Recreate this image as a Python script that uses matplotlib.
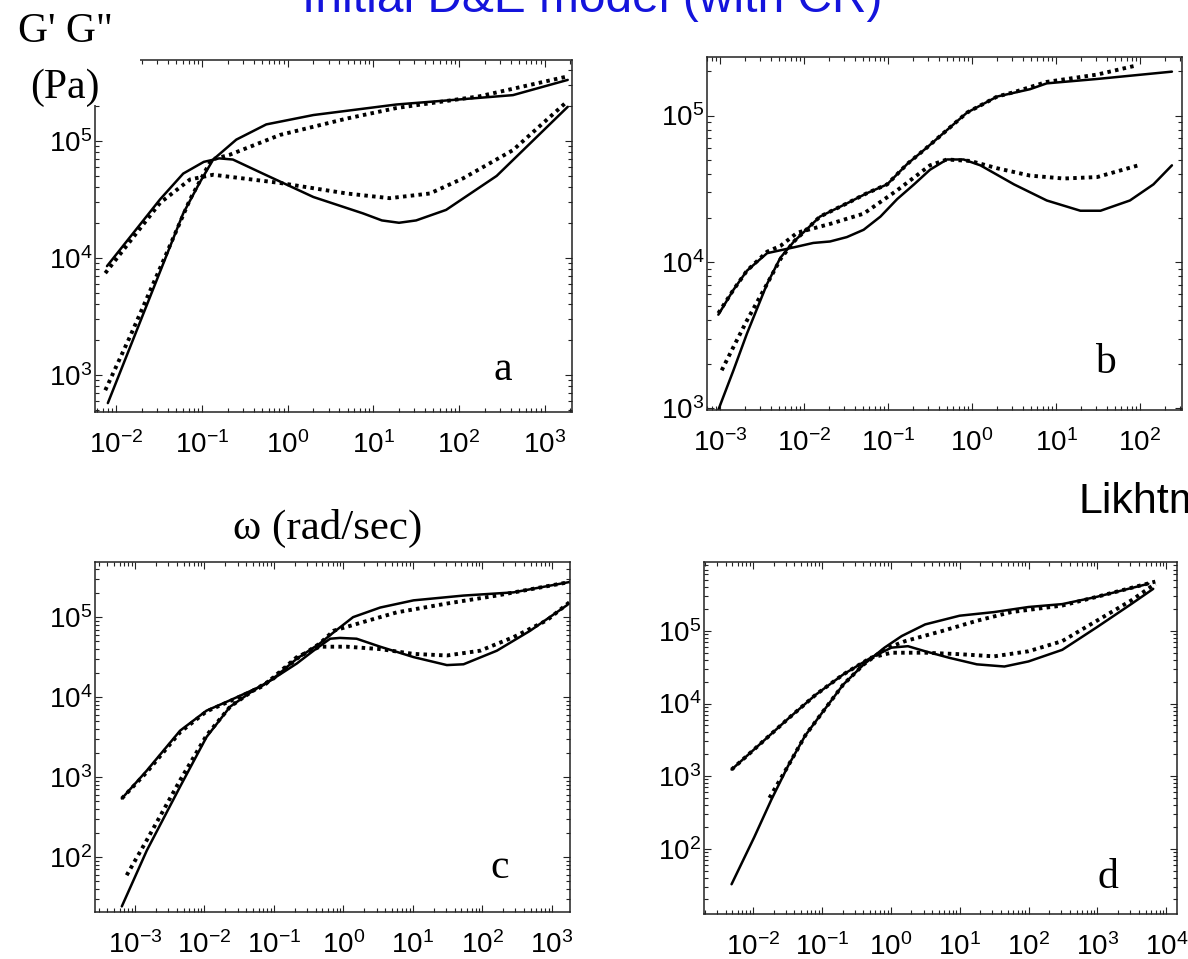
import numpy as np
import matplotlib.pyplot as plt
import matplotlib.ticker as mticker
from matplotlib.patches import Rectangle

plt.rcParams['font.family'] = ['Liberation Sans', 'DejaVu Sans']
plt.rcParams['mathtext.fontset'] = 'custom'
plt.rcParams['mathtext.rm'] = 'Liberation Sans'
plt.rcParams['mathtext.it'] = 'Liberation Sans:italic'
plt.rcParams['mathtext.default'] = 'regular'

# curves are stored as (log10 omega, log10 G) pairs
# panel a
a_gp_solid = np.array([(-2.10, 2.76), (-1.22, 4.38), (-1.03, 4.64), (-0.87, 4.84), (-0.60, 5.01),
                       (-0.25, 5.14), (0.30, 5.22), (1.27, 5.31), (2.63, 5.39), (3.27, 5.52)])
a_gp_dots = np.array([(-2.13, 2.87), (-1.84, 3.33), (-1.45, 3.98), (-1.14, 4.50), (-0.89, 4.84),
                      (-0.68, 4.88), (-0.09, 5.05), (0.69, 5.19), (1.27, 5.28), (2.24, 5.38), (3.27, 5.55)])
a_gpp_solid = np.array([(-2.11, 3.93), (-1.49, 4.50), (-1.22, 4.72), (-0.98, 4.82), (-0.80, 4.85),
                        (-0.64, 4.84), (-0.29, 4.72), (0.30, 4.52), (0.88, 4.38), (1.10, 4.32),
                        (1.30, 4.30), (1.50, 4.32), (1.85, 4.41), (2.44, 4.70), (3.27, 5.29)])
a_gpp_dots = np.array([(-2.13, 3.87), (-1.49, 4.47), (-1.14, 4.67), (-0.87, 4.71), (-0.09, 4.64),
                       (0.69, 4.55), (1.19, 4.51), (1.66, 4.55), (2.05, 4.68), (2.63, 4.92), (3.27, 5.34)])

# panel b
b_gp_solid = np.array([(-3.02, 2.99), (-2.84, 3.26), (-2.68, 3.51), (-2.44, 3.85), (-2.28, 4.03),
                       (-2.12, 4.14), (-1.81, 4.31), (-1.49, 4.40), (-1.25, 4.47), (-1.01, 4.53),
                       (-0.77, 4.67), (-0.54, 4.78), (-0.30, 4.90), (-0.06, 5.02), (0.30, 5.13),
                       (0.69, 5.18), (0.89, 5.22), (1.49, 5.25), (2.38, 5.30)])
b_gp_dots = np.array([(-2.98, 3.26), (-2.84, 3.42), (-2.68, 3.60), (-2.44, 3.85), (-2.28, 4.02),
                      (-2.12, 4.14), (-1.81, 4.31), (-1.49, 4.40), (-1.25, 4.47), (-1.01, 4.53),
                      (-0.77, 4.67), (-0.54, 4.78), (-0.30, 4.90), (-0.06, 5.02), (0.30, 5.13),
                      (0.50, 5.16), (0.89, 5.23), (1.49, 5.28), (1.94, 5.34)])
b_gpp_solid = np.array([(-3.02, 3.64), (-2.84, 3.81), (-2.68, 3.94), (-2.44, 4.06), (-2.28, 4.08),
                        (-2.12, 4.10), (-1.89, 4.13), (-1.69, 4.14), (-1.49, 4.17), (-1.29, 4.22),
                        (-1.09, 4.31), (-0.89, 4.43), (-0.69, 4.53), (-0.50, 4.63), (-0.30, 4.70),
                        (-0.10, 4.70), (0.10, 4.66), (0.50, 4.53), (0.89, 4.42), (1.29, 4.35),
                        (1.53, 4.35), (1.88, 4.42), (2.16, 4.53), (2.38, 4.66)])
b_gpp_dots = np.array([(-3.02, 3.65), (-2.84, 3.81), (-2.68, 3.94), (-2.44, 4.07), (-2.28, 4.11),
                       (-2.08, 4.20), (-1.69, 4.26), (-1.29, 4.33), (-0.89, 4.49), (-0.50, 4.66),
                       (-0.30, 4.70), (-0.02, 4.69), (0.30, 4.64), (0.69, 4.59), (1.09, 4.57),
                       (1.49, 4.58), (1.98, 4.66)])

# panel c
c_gp_solid = np.array([(-3.19, 1.38), (-2.83, 2.08), (-2.35, 2.88), (-1.97, 3.50), (-1.63, 3.88),
                       (-1.30, 4.08), (-1.01, 4.23), (-0.67, 4.48), (-0.34, 4.67), (-0.14, 4.81),
                       (0.14, 5.00), (0.53, 5.12), (1.01, 5.21), (1.73, 5.27), (2.45, 5.31), (3.26, 5.44)])
c_gp_dots = np.array([(-3.12, 1.77), (-2.83, 2.21), (-2.35, 2.96), (-1.97, 3.52), (-1.63, 3.88),
                      (-1.30, 4.08), (-1.01, 4.23), (-0.67, 4.48), (-0.34, 4.67), (-0.14, 4.83),
                      (0.29, 4.94), (0.77, 5.06), (1.49, 5.17), (2.21, 5.27), (3.26, 5.44)])
c_gpp_solid = np.array([(-3.19, 2.73), (-2.83, 3.08), (-2.35, 3.58), (-1.97, 3.83), (-1.63, 3.96),
                        (-1.15, 4.15), (-0.67, 4.42), (-0.43, 4.58), (-0.19, 4.73), (-0.05, 4.74),
                        (0.19, 4.73), (0.53, 4.63), (1.01, 4.50), (1.49, 4.40), (1.73, 4.41),
                        (2.21, 4.58), (2.69, 4.83), (3.22, 5.15)])
c_gpp_dots = np.array([(-3.19, 2.73), (-2.83, 3.06), (-2.35, 3.56), (-1.97, 3.82), (-1.63, 3.95),
                       (-1.15, 4.14), (-0.67, 4.50), (-0.34, 4.63), (0.05, 4.63), (0.53, 4.60),
                       (1.01, 4.54), (1.49, 4.52), (1.97, 4.58), (2.45, 4.75), (2.93, 4.96), (3.26, 5.19)])

# panel d
d_gp_solid = np.array([(-2.31, 1.51), (-1.98, 2.16), (-1.73, 2.68), (-1.49, 3.14), (-1.24, 3.56),
                       (-0.99, 3.88), (-0.69, 4.26), (-0.39, 4.54), (-0.09, 4.77), (0.16, 4.93),
                       (0.50, 5.09), (1.00, 5.21), (1.50, 5.26), (2.00, 5.33), (2.49, 5.37),
                       (2.99, 5.47), (3.74, 5.65)])
d_gp_dots = np.array([(-1.76, 2.70), (-1.49, 3.14), (-1.24, 3.56), (-0.99, 3.88), (-0.69, 4.26),
                      (-0.39, 4.54), (-0.09, 4.75), (0.21, 4.86), (0.75, 5.00), (1.25, 5.14),
                      (1.75, 5.26), (2.49, 5.35), (2.99, 5.47), (3.84, 5.68)])
d_gpp_solid = np.array([(-2.31, 3.09), (-1.98, 3.37), (-1.49, 3.79), (-1.09, 4.12), (-0.69, 4.40),
                        (-0.29, 4.63), (0.01, 4.77), (0.25, 4.79), (0.50, 4.72), (0.85, 4.63),
                        (1.25, 4.54), (1.65, 4.51), (2.00, 4.58), (2.49, 4.74), (2.99, 5.05),
                        (3.49, 5.37), (3.81, 5.58)])
d_gpp_dots = np.array([(-2.31, 3.09), (-1.98, 3.37), (-1.49, 3.79), (-1.09, 4.12), (-0.69, 4.40),
                       (-0.29, 4.63), (0.01, 4.70), (0.50, 4.70), (1.00, 4.68), (1.50, 4.65),
                       (2.00, 4.72), (2.49, 4.86), (2.99, 5.14), (3.49, 5.42), (3.84, 5.65)])

W, H = 1188, 959
fig = plt.figure(figsize=(W / 100, H / 100), dpi=100)


def px_box(left, top, right, bottom):
    # axes rectangle given in pixel edges
    return [left / W, 1 - bottom / H, (right - left) / W, (bottom - top) / H]


panels = [
    ('a', px_box(95, 60, 572, 412), (-2.25, 3.32), (2.684, 5.69), (503, 370),
     [a_gp_solid, a_gpp_solid], [a_gp_dots, a_gpp_dots]),
    ('b', px_box(707, 57, 1182, 410), (-3.155, 2.50), (2.989, 5.40), (1105, 363),
     [b_gp_solid, b_gpp_solid], [b_gp_dots, b_gpp_dots]),
    ('c', px_box(95, 562, 570, 912), (-3.576, 3.263), (1.31, 5.69), (500, 868),
     [c_gp_solid, c_gpp_solid], [c_gp_dots, c_gpp_dots]),
    ('d', px_box(704, 562, 1177, 914), (-2.71, 4.155), (1.10, 5.95), (1108, 878),
     [d_gp_solid, d_gpp_solid], [d_gp_dots, d_gpp_dots]),
]

for letter, box, xl, yl, lpos, solids, dots in panels:
    ax = fig.add_axes(box)
    ax.set_xscale('log')
    ax.set_yscale('log')
    for cv in solids:
        ax.plot(10 ** cv[:, 0], 10 ** cv[:, 1], color='black', lw=1.8,
                solid_capstyle='round', solid_joinstyle='round')
    for cv in dots:
        ax.plot(10 ** cv[:, 0], 10 ** cv[:, 1], color='black', lw=2.8,
                linestyle=(0, (0.9, 1.1)), dash_capstyle='butt')
    ax.set_xlim(10 ** xl[0], 10 ** xl[1])
    ax.set_ylim(10 ** yl[0], 10 ** yl[1])
    for axis in (ax.xaxis, ax.yaxis):
        axis.set_major_locator(mticker.LogLocator(base=10, numticks=30))
        axis.set_minor_locator(mticker.LogLocator(base=10, subs=np.arange(2, 10), numticks=30))
        axis.set_minor_formatter(mticker.NullFormatter())
    ax.tick_params(which='both', direction='in', top=True, right=True, width=0.8, colors='#222222')
    ax.tick_params(which='major', length=5, labelsize=20, labelcolor='black')
    ax.tick_params(which='minor', length=3)
    ax.tick_params(axis='x', pad=14)
    ax.tick_params(axis='y', pad=2)
    for sp in ax.spines.values():
        sp.set_linewidth(1.1)
        sp.set_color('#222222')
    fig.text(lpos[0] / W, 1 - lpos[1] / H, letter, family='Liberation Serif', fontsize=30,
             ha='center', va='center')

# blank corner behind the unit label
fig.patches.append(Rectangle((0, 1 - 105 / H), 140 / W, 105 / H, transform=fig.transFigure,
                             facecolor='white', edgecolor='none', zorder=5))

fig.text(592 / W, 1 - 12 / H, 'Initial D&E model (with CR)', fontsize=34.5, color='#1414DC',
         ha='center', va='baseline', zorder=6)
fig.text(65 / W, 1 - 32 / H, 'G\' G"', family='Liberation Serif', fontsize=30,
         ha='center', va='center', zorder=6)
fig.text(65 / W, 1 - 88 / H, '(Pa)', family='Liberation Serif', fontsize=30,
         ha='center', va='center', zorder=6)
fig.text(328 / W, 1 - 528 / H, 'ω (rad/sec)', family='Liberation Serif', fontsize=31,
         ha='center', va='center')
fig.text(1078 / W, 1 - 513 / H, 'Likhtman', fontsize=31, ha='left', va='baseline')

fig.savefig('out.png', dpi=100)
